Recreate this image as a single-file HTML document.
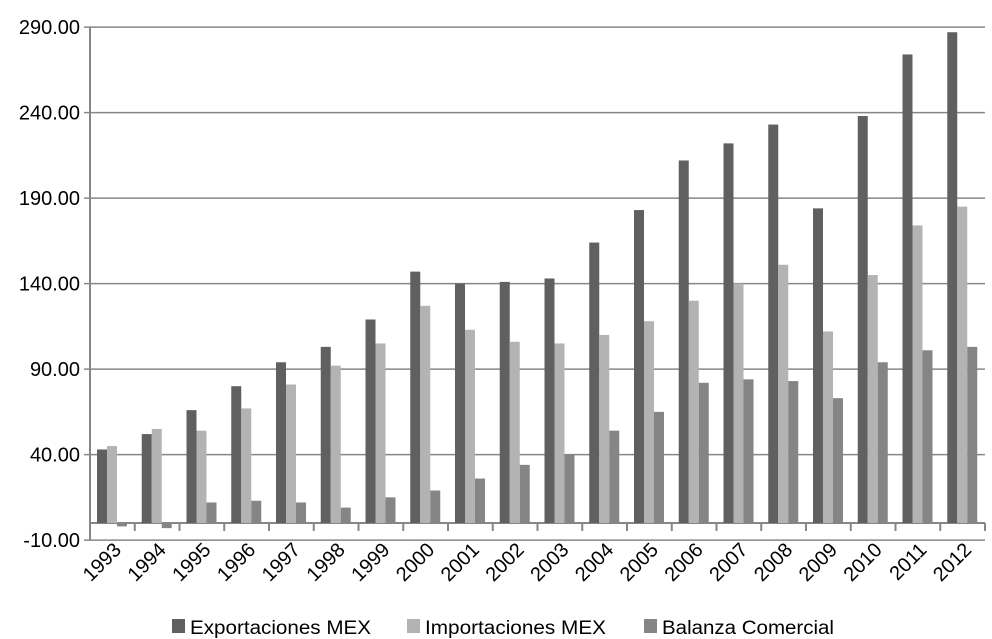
<!DOCTYPE html>
<html><head><meta charset="utf-8"><style>
body{margin:0;background:#fff;font-family:"Liberation Sans",sans-serif}
</style></head><body>
<svg id="c" width="992" height="639" style="display:block"></svg>
<script>
const years=["1993","1994","1995","1996","1997","1998","1999","2000","2001","2002","2003","2004","2005","2006","2007","2008","2009","2010","2011","2012"];
const exportsMex=[43,52,66,80,94,103,119,147,140,141,143,164,183,212,222,233,184,238,274,287];
const importsMex=[45,55,54,67,81,92,105,127,113,106,105,110,118,130,140,151,112,145,174,185];
const balanza=[-2,-3,12,13,12,9,15,19,26,34,40,54,65,82,84,83,73,94,101,103];
const yTicks=[-10,40,90,140,190,240,290];
const NS="http://www.w3.org/2000/svg";
const svg=document.getElementById('c');
const L=90,R=985,W=(R-L)/years.length;
function y(v){return 523-v*1.71;}
function x(i){return L+i*W;}
function mk(t,a){const e=document.createElementNS(NS,t);for(const k in a)e.setAttribute(k,a[k]);svg.appendChild(e);return e;}
yTicks.forEach(t=>{
  const g=mk('line',{x1:L-6,x2:R,y1:y(t),y2:y(t),stroke:'#868686','stroke-width':1.5});
  
  
  const tx=mk('text',{x:L-10,y:y(t)+7,'text-anchor':'end','font-size':20,fill:'#000'});
  tx.textContent=t.toFixed(2);
  
  
});
const ya=mk('line',{x1:L,x2:L,y1:y(290),y2:y(-10),stroke:'#868686','stroke-width':2});


const xa=mk('line',{x1:L,x2:R,y1:y(0),y2:y(0),stroke:'#868686','stroke-width':2});


const series=[[exportsMex,'#606060','exports'],[importsMex,'#b3b3b3','imports'],[balanza,'#858585','balance']];
years.forEach((yr,i)=>{
  series.forEach((s,j)=>{
    const v=s[0][i];const bx=x(i)+7+j*10;
    const r=mk('rect',{x:bx,y:Math.min(y(v),y(0)),width:10,height:Math.abs(y(v)-y(0)),fill:s[1]});
    
    
  });
  const tk=mk('line',{x1:x(i+1),x2:x(i+1),y1:y(0),y2:y(0)+8,stroke:'#868686','stroke-width':2});
  
  
  const cx=x(i)+W/2+10,cy=551;
  const t=mk('text',{x:cx,y:cy,'text-anchor':'end','font-size':20,fill:'#000',transform:`rotate(-45 ${cx} ${cy})`});
  t.textContent=yr;
  
  
});
const leg=[['Exportaciones MEX','#606060',172],['Importaciones MEX','#b3b3b3',407],['Balanza Comercial','#858585',644]];
leg.forEach(l=>{
  const r=mk('rect',{x:l[2],y:619,width:13,height:14,fill:l[1]});
  
  
  const t=mk('text',{x:l[2]+18,y:634,'font-size':19,fill:'#000',textLength:l[0]==='Balanza Comercial'?172:181,lengthAdjust:'spacingAndGlyphs'});
  t.textContent=l[0];
  
  
});
</script>
</body></html>
